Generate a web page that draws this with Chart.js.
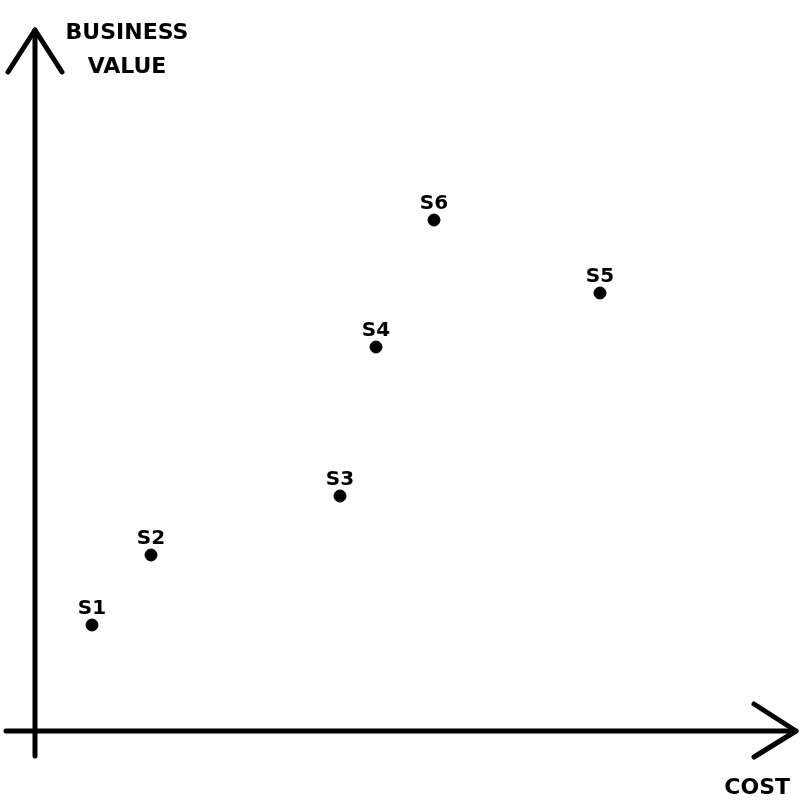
<!DOCTYPE html>
<html>
<head>
<meta charset="utf-8">
<script src="https://cdn.jsdelivr.net/npm/chart.js@4.4.1/dist/chart.umd.min.js"></script>
<style>
  html, body { margin: 0; padding: 0; background: #fff; }
  #wrap { width: 800px; height: 800px; }
</style>
</head>
<body>
<div id="wrap"><canvas id="matrix" width="800" height="800"></canvas></div>
<script>
// solution labels and their position (cost, business value)
const labels = ["S1", "S2", "S3", "S4", "S5", "S6"];
const costValues = [0.57, 1.16, 3.05, 3.41, 5.65, 3.99];
const valueValues = [1.06, 1.76, 2.35, 3.84, 4.38, 5.11];

const xTitle = "COST";
const yTitleLines = ["BUSINESS", "VALUE"];

const FONT = '"DejaVu Sans", sans-serif';

// axes with arrow heads, drawn through the scales' zero point
const axisArrows = {
  id: "axisArrows",
  beforeDatasetsDraw(chart) {
    const ctx = chart.ctx;
    const x0 = chart.scales.x.getPixelForValue(0);
    const y0 = chart.scales.y.getPixelForValue(0);
    ctx.save();
    ctx.strokeStyle = "#000";
    ctx.lineWidth = 5;
    ctx.lineCap = "round";
    ctx.lineJoin = "round";

    // vertical axis
    ctx.beginPath();
    ctx.moveTo(x0, y0 + 25);
    ctx.lineTo(x0, 30);
    ctx.stroke();
    ctx.beginPath();
    ctx.moveTo(x0 - 27, 72);
    ctx.lineTo(x0, 30);
    ctx.lineTo(x0 + 27, 72);
    ctx.stroke();

    // horizontal axis
    ctx.beginPath();
    ctx.moveTo(x0 - 29, y0);
    ctx.lineTo(796, y0);
    ctx.stroke();
    ctx.beginPath();
    ctx.moveTo(754, y0 - 27);
    ctx.lineTo(796, y0);
    ctx.lineTo(754, y0 + 26);
    ctx.stroke();

    // axis titles
    ctx.fillStyle = "#000";
    ctx.font = "bold 22px " + FONT;
    ctx.textAlign = "center";
    ctx.textBaseline = "alphabetic";
    ctx.fillText(yTitleLines[0], 127, 39);
    ctx.fillText(yTitleLines[1], 127, 73);
    ctx.textAlign = "right";
    ctx.fillText(xTitle, 790, 794);
    ctx.restore();
  }
};

// point names above each dot
const pointNames = {
  id: "pointNames",
  afterDatasetsDraw(chart) {
    const ctx = chart.ctx;
    const meta = chart.getDatasetMeta(0);
    ctx.save();
    ctx.fillStyle = "#000";
    ctx.font = "bold 20px " + FONT;
    ctx.textAlign = "center";
    ctx.textBaseline = "alphabetic";
    meta.data.forEach((pt, i) => {
      ctx.fillText(labels[i], pt.x, pt.y - 11);
    });
    ctx.restore();
  }
};

new Chart(document.getElementById("matrix"), {
  type: "scatter",
  data: {
    datasets: [{
      label: "Solutions",
      data: labels.map((l, i) => ({ x: costValues[i], y: valueValues[i] })),
      backgroundColor: "#000",
      borderColor: "#000",
      pointRadius: 6,
      pointHoverRadius: 6
    }]
  },
  options: {
    responsive: false,
    animation: false,
    layout: { padding: 0, autoPadding: false },
    plugins: {
      legend: { display: false },
      tooltip: { enabled: false }
    },
    scales: {
      x: { type: "linear", display: false, min: -0.35, max: 7.65 },
      y: { type: "linear", display: false, min: -0.69, max: 7.31 }
    }
  },
  plugins: [axisArrows, pointNames]
});
</script>
</body>
</html>
